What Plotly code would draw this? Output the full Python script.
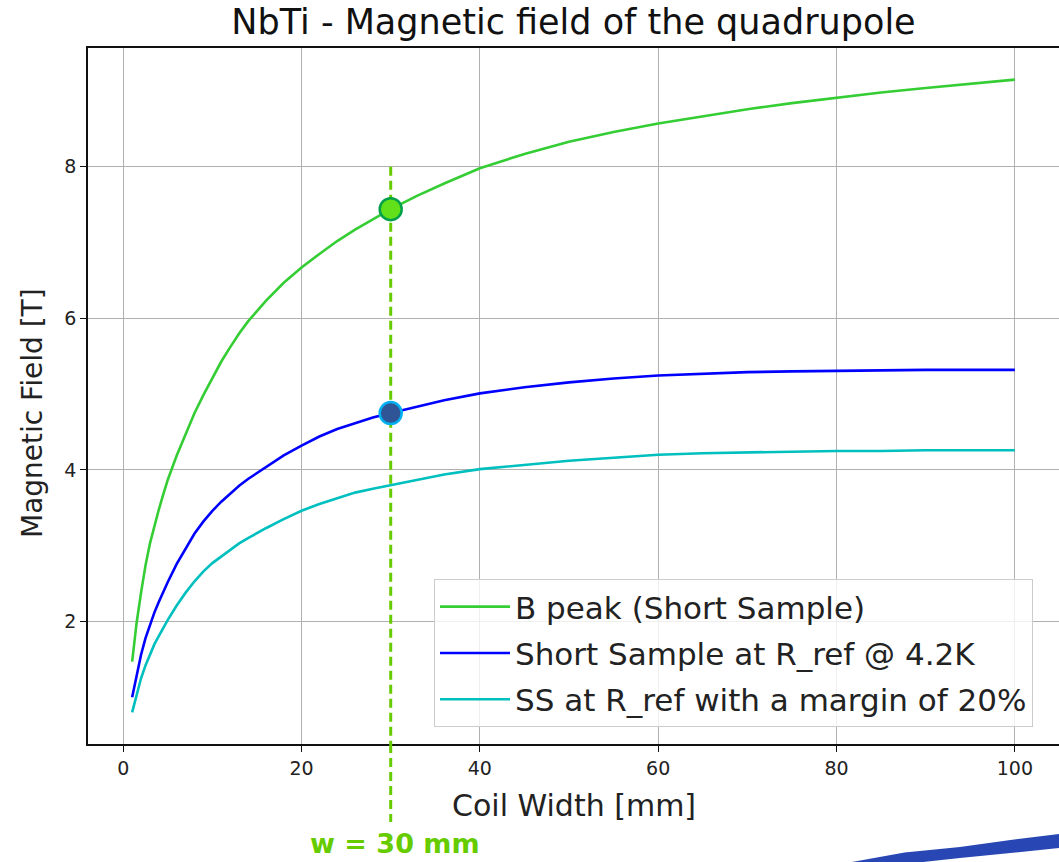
import plotly.graph_objects as go

# ---- data ----
coil_width = [1, 1.5, 2, 2.5, 3, 3.5, 4, 4.5, 5, 6, 7, 8, 9, 10, 11, 12, 13, 14, 15, 16,
              18, 20, 22, 24, 26, 28, 30, 33, 36, 40, 45, 50, 55, 60, 65, 70, 75, 80,
              85, 90, 95, 100]
b_peak = [1.47, 1.98, 2.38, 2.74, 3.03, 3.27, 3.48, 3.68, 3.87, 4.19, 4.48, 4.75, 4.99,
          5.22, 5.43, 5.62, 5.80, 5.96, 6.10, 6.23, 6.47, 6.67, 6.85, 7.02, 7.17, 7.31,
          7.44, 7.62, 7.78, 7.98, 8.17, 8.33, 8.46, 8.57, 8.67, 8.76, 8.84, 8.91, 8.98,
          9.04, 9.10, 9.15]
ss_ref = [1.00, 1.30, 1.56, 1.78, 1.96, 2.12, 2.26, 2.40, 2.52, 2.76, 2.97, 3.16, 3.32,
          3.46, 3.58, 3.69, 3.79, 3.88, 3.96, 4.04, 4.19, 4.32, 4.44, 4.54, 4.62, 4.69,
          4.75, 4.84, 4.92, 5.01, 5.09, 5.155, 5.205, 5.245, 5.27, 5.29, 5.30, 5.31,
          5.315, 5.32, 5.32, 5.32]
ss_margin = [0.80, 1.04, 1.25, 1.42, 1.57, 1.70, 1.81, 1.92, 2.02, 2.21, 2.38, 2.53, 2.66,
             2.77, 2.86, 2.95, 3.03, 3.10, 3.17, 3.23, 3.35, 3.46, 3.55, 3.63, 3.70, 3.75,
             3.80, 3.87, 3.94, 4.01, 4.07, 4.12, 4.16, 4.20, 4.22, 4.23, 4.24, 4.25,
             4.25, 4.26, 4.26, 4.26]
names = ["B peak (Short Sample)", "Short Sample at R_ref @ 4.2K",
         "SS at R_ref with a margin of 20%"]
colors = ["#34CD34", "#0000FF", "#00BFBF"]
chosen_w = 30
guide_top = 8
x_ticks = [0, 20, 40, 60, 80, 100]
y_ticks = [2, 4, 6, 8]

# axis ranges like matplotlib's 5% margins
xmin, xmax = min(coil_width), max(coil_width)
xpad = (xmax - xmin) * 0.05
ally = b_peak + ss_ref + ss_margin
ymin, ymax = min(ally), max(ally)
ypad = (ymax - ymin) * 0.05
xr = [xmin - xpad, xmax + xpad]
yr = [ymin - ypad, ymax + ypad]

FONT = "DejaVu Sans"
fig = go.Figure()
for i, (ys, nm, c) in enumerate(zip([b_peak, ss_ref, ss_margin], names, colors)):
    fig.add_trace(go.Scatter(x=coil_width, y=ys, mode="lines", name=nm,
                             legendgroup=f"g{i}",
                             line=dict(color=c, width=2.6, shape="linear")))

idx = coil_width.index(chosen_w)
# dashed guide inside plot area
fig.add_trace(go.Scatter(x=[chosen_w, chosen_w], y=[guide_top, yr[0]], mode="lines",
                         showlegend=False, hoverinfo="skip",
                         line=dict(color="#66CC00", width=3, dash="9px,5px")))
# markers
fig.add_trace(go.Scatter(x=[chosen_w], y=[b_peak[idx]], mode="markers", showlegend=False,
                         marker=dict(size=22, color="#62E01A",
                                     line=dict(color="#00A04A", width=2.5))))
fig.add_trace(go.Scatter(x=[chosen_w], y=[ss_ref[idx]], mode="markers", showlegend=False,
                         marker=dict(size=22, color="#2F5597",
                                     line=dict(color="#00B0F0", width=2.5))))

shapes = [
    # continuation of guide below the axis
    dict(type="line", xref="x", yref="paper", x0=chosen_w, x1=chosen_w, y0=0, y1=-0.112,
         line=dict(color="#66CC00", width=3, dash="9px,5px"), layer="above"),
    # decorative brush stroke at bottom right
    dict(type="path", xref="paper", yref="paper",
         path="M 0.785 -0.170 L 0.841 -0.1558 L 0.898 -0.1480 L 0.950 -0.1379 L 1.0 -0.1293 "
              "L 1.0 -0.1494 L 0.950 -0.1566 L 0.898 -0.1638 L 0.857 -0.170 Z",
         fillcolor="#2846B4", line=dict(width=0), layer="above"),
]

annotations = [
    dict(text="<b>w = 30 mm</b>", x=chosen_w, xref="x", xshift=4,
         y=-(843 - 744) / 696, yref="paper", yanchor="middle", showarrow=False,
         font=dict(family=FONT, size=27, color="#66CC00")),
    dict(text="Coil Width [mm]", x=0.5, xref="paper", y=-(805 - 744) / 696, yref="paper",
         yanchor="middle", xanchor="center", showarrow=False,
         font=dict(family=FONT, size=30, color="#222222")),
    dict(text="Magnetic Field [T]", x=-(88 - 33) / 971, xref="paper",
         y=(744 - 413) / 696, yref="paper", xanchor="center", yanchor="middle",
         textangle=-90, showarrow=False,
         font=dict(family=FONT, size=28, color="#222222")),
]

fig.update_layout(
    width=1059, height=862,
    margin=dict(l=88, r=0, t=48, b=118),
    paper_bgcolor="white", plot_bgcolor="white",
    font=dict(family=FONT, color="#222222"),
    title=dict(text="NbTi - Magnetic field of the quadrupole", x=0.5, xref="paper",
               xanchor="center", y=1 - 22 / 862, yref="container", yanchor="middle",
               font=dict(family=FONT, size=35, color="#111111")),
    shapes=shapes,
    annotations=annotations,
    legend=dict(x=(434 - 88) / 971, y=(744 - 727) / 696, xanchor="left", yanchor="bottom",
                bgcolor="rgba(255,255,255,0.8)", bordercolor="#cccccc", borderwidth=1,
                font=dict(family=FONT, size=31, color="#222222"),
                itemwidth=70, tracegroupgap=3),
)
fig.update_xaxes(range=xr, tickvals=x_ticks, showgrid=True, gridcolor="#b0b0b0", gridwidth=1,
                 showline=True, linecolor="#111111", linewidth=1.6, mirror=True,
                 ticks="outside", ticklen=6, tickwidth=1.4, tickcolor="#111111",
                 tickfont=dict(family=FONT, size=19, color="#222222"),
                 zeroline=False)
fig.update_yaxes(range=yr, tickvals=y_ticks, showgrid=True, gridcolor="#b0b0b0", gridwidth=1,
                 showline=True, linecolor="#111111", linewidth=1.6,
                 ticks="outside", ticklen=6, tickwidth=1.4, tickcolor="#111111",
                 tickfont=dict(family=FONT, size=19, color="#222222"),
                 zeroline=False)

fig.write_html("out.html")
